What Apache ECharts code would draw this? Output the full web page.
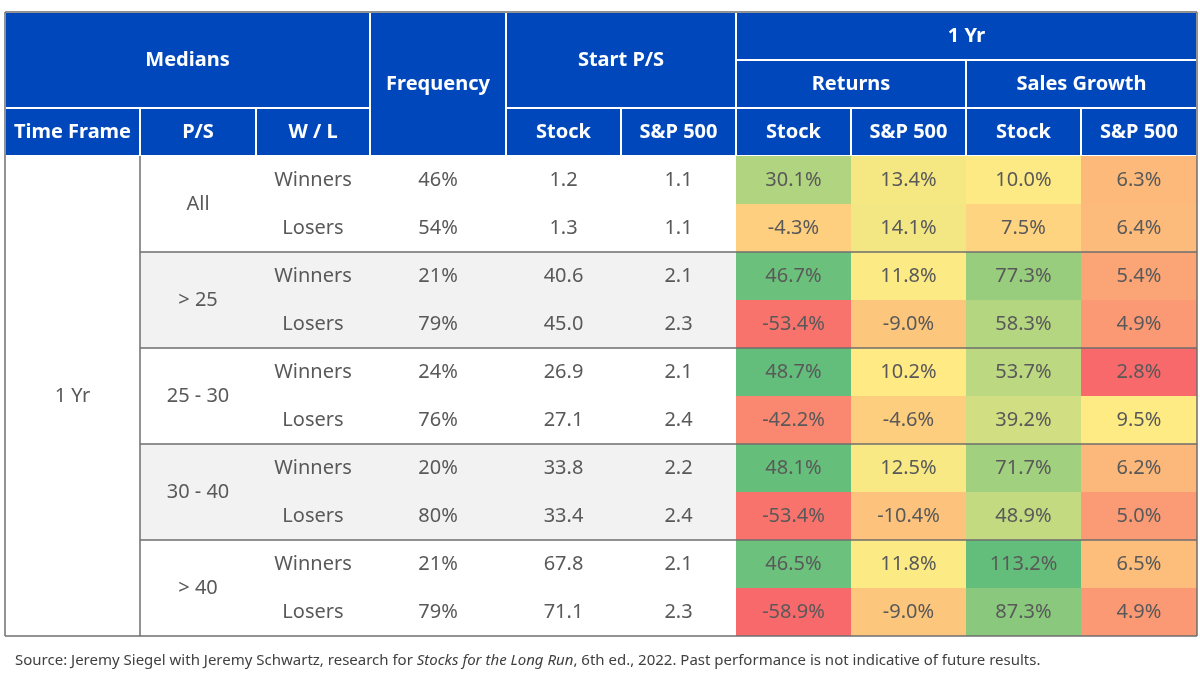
<!DOCTYPE html>
<html>
<head>
<meta charset="utf-8">
<script src="https://cdn.jsdelivr.net/npm/echarts@6/dist/echarts.min.js"></script>
<style>
  html, body { margin: 0; padding: 0; background: #fff; }
  #table-chart { width: 1200px; height: 676px; }
</style>
</head>
<body>
<div id="table-chart"></div>
<script>
const timeFrame = '1 Yr';
const psBuckets = ['All', '> 25', '25 - 30', '30 - 40', '> 40'];
const outcomes = ['Winners', 'Losers'];
const frequency = [46, 54, 21, 79, 24, 76, 20, 80, 21, 79];
const startPsStock = [1.2, 1.3, 40.6, 45.0, 26.9, 27.1, 33.8, 33.4, 67.8, 71.1];
const startPsSp500 = [1.1, 1.1, 2.1, 2.3, 2.1, 2.4, 2.2, 2.4, 2.1, 2.3];
const returnsStock = [30.1, -4.3, 46.7, -53.4, 48.7, -42.2, 48.1, -53.4, 46.5, -58.9];
const returnsSp500 = [13.4, 14.1, 11.8, -9.0, 10.2, -4.6, 12.5, -10.4, 11.8, -9.0];
const salesStock = [10.0, 7.5, 77.3, 58.3, 53.7, 39.2, 71.7, 48.9, 113.2, 87.3];
const salesSp500 = [6.3, 6.4, 5.4, 4.9, 2.8, 9.5, 6.2, 5.0, 6.5, 4.9];
const subHeaders = ['Time Frame', 'P/S', 'W / L', '', 'Stock', 'S&P 500', 'Stock', 'S&P 500', 'Stock', 'S&P 500'];

// layout (column edges in px of table width, rows are equal height)
const colEdges = [0, 135, 251, 365, 501, 616, 731, 846, 961, 1076, 1192];
const HEAD_ROWS = 3;
const BLUE = '#0047bb';
const TEXT = '#595959';
const FONT = '"Noto Sans", sans-serif';

// excel style 3-colour scale, midpoint = 50th percentile of the group
function colorScale(values) {
  const s = values.slice().sort((a, b) => a - b);
  const n = s.length;
  const pos = (n - 1) * 0.5;
  const mid = s[Math.floor(pos)] + (s[Math.ceil(pos)] - s[Math.floor(pos)]) * (pos - Math.floor(pos));
  const lo = s[0], hi = s[n - 1];
  return v => {
    if (v <= mid) return echarts.color.lerp((v - lo) / (mid - lo), ['#f8696b', '#ffeb84']);
    return echarts.color.lerp((v - mid) / (hi - mid), ['#ffeb84', '#63be7b']);
  };
}
const returnsColor = colorScale(returnsStock.concat(returnsSp500));
const salesColor = colorScale(salesStock.concat(salesSp500));

const cells = [];
function cell(c0, c1, r0, r1, text, fill, head) {
  cells.push({ value: [colEdges[c0], colEdges[c1], r0, r1], text: text, fill: fill, head: head });
}

// header block
cell(0, 3, 0, 2, 'Medians', BLUE, true);
cell(3, 4, 0, 3, 'Frequency', BLUE, true);
cell(4, 6, 0, 2, 'Start P/S', BLUE, true);
cell(6, 10, 0, 1, '1 Yr', BLUE, true);
cell(6, 8, 1, 2, 'Returns', BLUE, true);
cell(8, 10, 1, 2, 'Sales Growth', BLUE, true);
subHeaders.forEach((h, i) => { if (h) cell(i, i + 1, 2, 3, h, BLUE, true); });

// body
cell(0, 1, HEAD_ROWS, HEAD_ROWS + frequency.length, timeFrame, '#ffffff', false);
psBuckets.forEach((b, g) => {
  const bg = g % 2 ? '#f2f2f2' : '#ffffff';
  const r = HEAD_ROWS + g * 2;
  cell(1, 2, r, r + 2, b, bg, false);
  for (let k = 0; k < 2; k++) {
    const i = g * 2 + k;
    const row = r + k;
    cell(2, 3, row, row + 1, outcomes[k], bg, false);
    cell(3, 4, row, row + 1, frequency[i] + '%', bg, false);
    cell(4, 5, row, row + 1, startPsStock[i].toFixed(1), bg, false);
    cell(5, 6, row, row + 1, startPsSp500[i].toFixed(1), bg, false);
    cell(6, 7, row, row + 1, returnsStock[i].toFixed(1) + '%', returnsColor(returnsStock[i]), false);
    cell(7, 8, row, row + 1, returnsSp500[i].toFixed(1) + '%', returnsColor(returnsSp500[i]), false);
    cell(8, 9, row, row + 1, salesStock[i].toFixed(1) + '%', salesColor(salesStock[i]), false);
    cell(9, 10, row, row + 1, salesSp500[i].toFixed(1) + '%', salesColor(salesSp500[i]), false);
  }
});

// rules: group separators, the vertical after Time Frame, outer frame
const totalRows = HEAD_ROWS + frequency.length;
const rules = [];
psBuckets.forEach((b, g) => { if (g > 0) rules.push([colEdges[1], colEdges[10], HEAD_ROWS + g * 2, HEAD_ROWS + g * 2]); });
rules.push([colEdges[1], colEdges[1], HEAD_ROWS, totalRows]);
rules.push([0, colEdges[10], 0, 0]);
rules.push([0, colEdges[10], totalRows, totalRows]);
rules.push([0, 0, 0, totalRows]);
rules.push([colEdges[10], colEdges[10], 0, totalRows]);

function renderCell(params, api) {
  const c = cells[params.dataIndex];
  const p0 = api.coord([api.value(0), api.value(2)]);
  const p1 = api.coord([api.value(1), api.value(3)]);
  return {
    type: 'group',
    children: [
      {
        type: 'rect',
        shape: { x: p0[0], y: p0[1], width: p1[0] - p0[0], height: p1[1] - p0[1] },
        style: { fill: c.fill, stroke: c.head ? '#ffffff' : null, lineWidth: c.head ? 2 : 0 }
      },
      {
        type: 'text',
        x: (p0[0] + p1[0]) / 2,
        y: (p0[1] + p1[1]) / 2,
        style: {
          text: c.text,
          fill: c.head ? '#ffffff' : TEXT,
          fontFamily: FONT,
          fontSize: 20,
          fontWeight: c.head ? 'bold' : 'normal',
          align: 'center',
          verticalAlign: 'middle'
        }
      }
    ]
  };
}

function renderRule(params, api) {
  const a = api.coord([api.value(0), api.value(2)]);
  const b = api.coord([api.value(1), api.value(3)]);
  return {
    type: 'line',
    shape: { x1: a[0], y1: a[1], x2: b[0], y2: b[1] },
    style: { stroke: '#6e6e6e', lineWidth: 1.5 }
  };
}

const chart = echarts.init(document.getElementById('table-chart'));
chart.setOption({
  animation: false,
  backgroundColor: '#ffffff',
  title: {
    left: 10,
    top: 648,
    text: '{a|Source: Jeremy Siegel with Jeremy Schwartz, research for }{i|Stocks for the Long Run}{a|, 6th ed., 2022. Past performance is not indicative of future results.}',
    textStyle: {
      fontWeight: 'normal',
      rich: {
        a: { fontFamily: FONT, fontSize: 15, fontWeight: 'normal', color: '#404040' },
        i: { fontFamily: FONT, fontSize: 15, fontWeight: 'normal', color: '#404040', fontStyle: 'italic' }
      }
    }
  },
  grid: { left: 5, top: 12, width: 1192, height: 624 },
  xAxis: { type: 'value', min: 0, max: colEdges[10], show: false },
  yAxis: { type: 'value', min: 0, max: totalRows, inverse: true, show: false },
  series: [
    { type: 'custom', renderItem: renderCell, data: cells.map(c => c.value), encode: { x: [0, 1], y: [2, 3] }, clip: false, silent: true },
    { type: 'custom', renderItem: renderRule, data: rules, encode: { x: [0, 1], y: [2, 3] }, clip: false, silent: true, z: 5 }
  ]
});
</script>
</body>
</html>
